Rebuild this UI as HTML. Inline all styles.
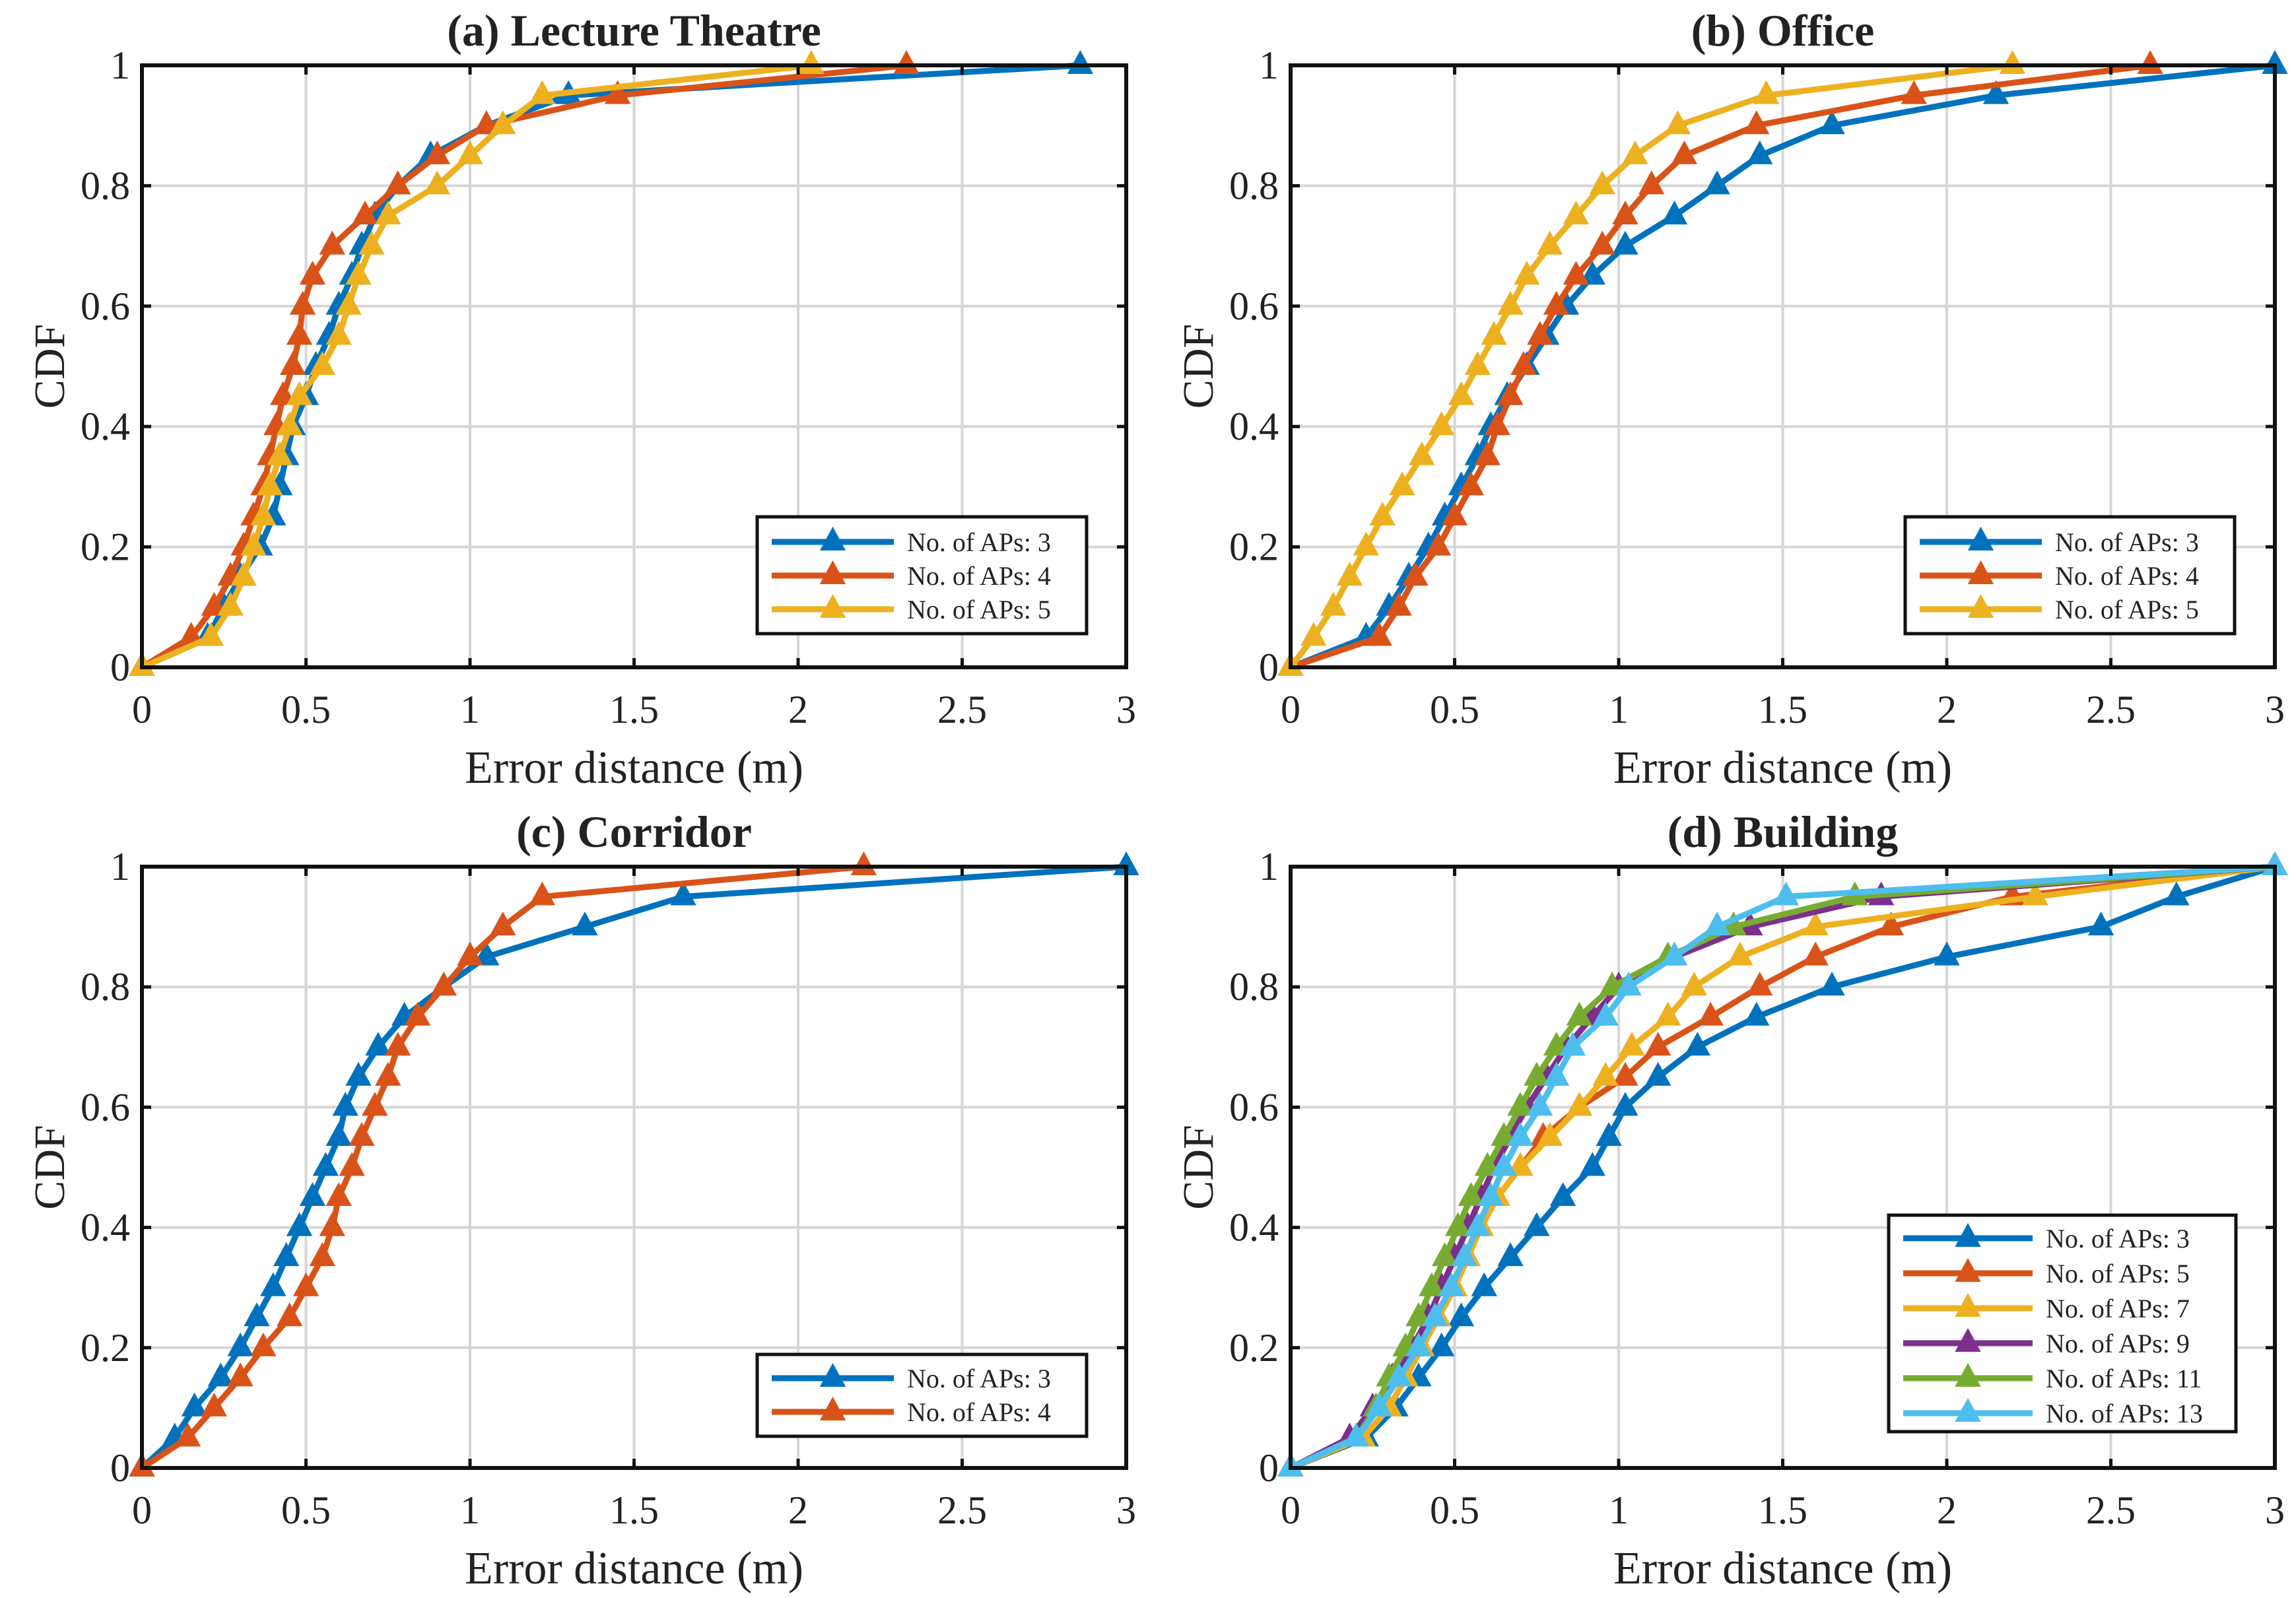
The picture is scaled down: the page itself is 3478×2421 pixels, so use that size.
<!DOCTYPE html>
<html><head><meta charset="utf-8"><style>
html,body{margin:0;padding:0;background:#fff}
svg{display:block}
text{font-family:"Liberation Serif",serif;fill:#222}
</style></head><body>
<svg id="chart" width="3478" height="2421" viewBox="0 0 3478 2421" xmlns="http://www.w3.org/2000/svg"></svg>
<script>
const yLevels = [0,0.05,0.1,0.15,0.2,0.25,0.3,0.35,0.4,0.45,0.5,0.55,0.6,0.65,0.7,0.75,0.8,0.85,0.9,0.95,1];
const xTicks = [0,0.5,1,1.5,2,2.5,3];
const yTicks = [0,0.2,0.4,0.6,0.8,1];
// Panel (a) Lecture Theatre
const aAP3 = [0,0.2,0.25,0.3,0.36,0.4,0.42,0.44,0.46,0.5,0.53,0.57,0.6,0.64,0.67,0.71,0.78,0.88,1.05,1.3,2.86];
const aAP4 = [0,0.15,0.22,0.27,0.31,0.34,0.37,0.39,0.41,0.43,0.46,0.48,0.49,0.52,0.58,0.68,0.78,0.9,1.05,1.45,2.33];
const aAP5 = [0,0.21,0.27,0.31,0.34,0.37,0.39,0.42,0.45,0.48,0.55,0.6,0.63,0.66,0.7,0.75,0.9,1.0,1.1,1.22,2.04];
// Panel (b) Office
const bAP3 = [0,0.23,0.3,0.36,0.42,0.47,0.52,0.57,0.61,0.66,0.72,0.78,0.84,0.92,1.02,1.17,1.3,1.43,1.65,2.15,3.0];
const bAP4 = [0,0.27,0.33,0.38,0.45,0.5,0.55,0.6,0.63,0.67,0.71,0.76,0.81,0.87,0.95,1.02,1.1,1.2,1.42,1.9,2.62];
const bAP5 = [0,0.07,0.13,0.18,0.23,0.28,0.34,0.4,0.46,0.52,0.57,0.62,0.67,0.72,0.79,0.87,0.95,1.05,1.18,1.45,2.2];
// Panel (c) Corridor
const cAP3 = [0,0.1,0.16,0.24,0.3,0.35,0.4,0.44,0.48,0.52,0.56,0.6,0.62,0.66,0.72,0.8,0.92,1.05,1.35,1.65,3.0];
const cAP4 = [0,0.14,0.22,0.3,0.37,0.45,0.5,0.55,0.58,0.6,0.64,0.67,0.71,0.75,0.78,0.84,0.92,1.0,1.1,1.22,2.2];
// Panel (d) Building
const dAP3 = [0,0.23,0.32,0.39,0.46,0.52,0.59,0.67,0.75,0.83,0.92,0.97,1.02,1.12,1.24,1.42,1.65,2.0,2.47,2.7,3.0];
const dAP5 = [0,0.22,0.3,0.35,0.4,0.45,0.5,0.54,0.58,0.63,0.7,0.77,0.88,1.02,1.12,1.28,1.43,1.6,1.83,2.2,3.0];
const dAP7 = [0,0.22,0.3,0.35,0.4,0.45,0.5,0.54,0.58,0.63,0.7,0.79,0.88,0.96,1.04,1.15,1.23,1.37,1.6,2.27,3.0];
const dAP9 = [0,0.18,0.25,0.31,0.37,0.42,0.46,0.5,0.54,0.58,0.62,0.67,0.72,0.78,0.84,0.92,1.0,1.17,1.4,1.8,3.0];
const dAP11 = [0,0.2,0.26,0.3,0.35,0.39,0.43,0.47,0.51,0.55,0.6,0.65,0.7,0.75,0.81,0.88,0.98,1.15,1.35,1.72,3.0];
const dAP13 = [0,0.2,0.27,0.33,0.39,0.44,0.49,0.53,0.57,0.61,0.65,0.7,0.76,0.81,0.86,0.96,1.03,1.17,1.3,1.51,3.0];

const C=['#0072BD','#D95319','#EDB120','#7E2F8E','#77AC30','#4DBEEE'];
const svg=document.getElementById('chart');
const NS='http://www.w3.org/2000/svg';
function mk(tag,attrs,parent){const e=document.createElementNS(NS,tag);for(const k in attrs)e.setAttribute(k,attrs[k]);(parent||svg).appendChild(e);return e;}
function tri(g,cx,cy,col){return mk('polygon',{points:`${cx},${cy-21} ${cx-18},${cy+12} ${cx+18},${cy+12}`,fill:col,stroke:col,'stroke-width':2},g);}

function panel(id,title,L,T,R,B,series,labels,leg){
  const g=mk('g',{});
  
  
  const sx=v=>L+(R-L)*v/3, sy=v=>B-(B-T)*v;
  xTicks.forEach(t=>{const l=mk('line',{x1:sx(t),x2:sx(t),y1:T,y2:B,stroke:'#d6d6d6','stroke-width':4},g);});
  yTicks.forEach(t=>{const l=mk('line',{x1:L,x2:R,y1:sy(t),y2:sy(t),stroke:'#d6d6d6','stroke-width':4},g);});
  series.forEach((xs,i)=>{
    const col=C[i];
    const s=mk('g',{},g);
    
    
    const pts=xs.map((x,k)=>sx(x)+','+sy(yLevels[k])).join(' ');
    mk('polyline',{points:pts,fill:'none',stroke:col,'stroke-width':9,'stroke-linejoin':'round'},s);
    xs.forEach((x,k)=>{const m=tri(s,sx(x),sy(yLevels[k]),col);});
  });
  const box=mk('rect',{x:L,y:T,width:R-L,height:B-T,fill:'none',stroke:'#111','stroke-width':6},g);
  
  xTicks.forEach(t=>{
    mk('line',{x1:sx(t),x2:sx(t),y1:B,y2:B-14,stroke:'#111','stroke-width':5},g);
    mk('line',{x1:sx(t),x2:sx(t),y1:T,y2:T+14,stroke:'#111','stroke-width':5},g);
    const tx=mk('text',{x:sx(t),y:B+84,'font-size':60,'text-anchor':'middle'},g);tx.textContent=String(t);
    
  });
  yTicks.forEach(t=>{
    mk('line',{x1:L,x2:L+14,y1:sy(t),y2:sy(t),stroke:'#111','stroke-width':5},g);
    mk('line',{x1:R,x2:R-14,y1:sy(t),y2:sy(t),stroke:'#111','stroke-width':5},g);
    const tx=mk('text',{x:L-18,y:sy(t)+20,'font-size':60,'text-anchor':'end'},g);tx.textContent=String(t);
    
  });
  const tt=mk('text',{x:(L+R)/2,y:T-30,'font-size':68,'font-weight':'bold','text-anchor':'middle'},g);tt.textContent=title;
  
  const xl=mk('text',{x:(L+R)/2,y:B+175,'font-size':70,'text-anchor':'middle'},g);xl.textContent='Error distance (m)';
  
  const cy=(T+B)/2;
  const yl=mk('text',{x:L-140,y:cy+22,'font-size':66,'text-anchor':'middle',transform:`rotate(-90 ${L-140} ${cy})`},g);
  yl.textContent='CDF';
  
  const lg=mk('g',{},g);
  
  mk('rect',{x:leg.x,y:leg.y,width:leg.w,height:leg.h,fill:'#fff',stroke:'#111','stroke-width':5},lg);
  labels.forEach((lab,i)=>{
    const ry=leg.y+leg.first+i*leg.step;
    const e=mk('g',{},lg);
    
    mk('line',{x1:leg.x+22,x2:leg.x+22+leg.lw,y1:ry,y2:ry,stroke:C[i],'stroke-width':9},e);
    tri(e,leg.x+22+leg.lw/2,ry,C[i]);
    const t=mk('text',{x:leg.x+leg.lw+42,y:ry+14,'font-size':40},e);t.textContent=lab;
  });
}
panel('a','(a) Lecture Theatre',215,99,1706,1011,[aAP3,aAP4,aAP5],['No. of APs: 3','No. of APs: 4','No. of APs: 5'],{x:1147,y:783,w:499,h:177,first:38,step:51,lw:185});
panel('b','(b) Office',1955,99,3446,1011,[bAP3,bAP4,bAP5],['No. of APs: 3','No. of APs: 4','No. of APs: 5'],{x:2886,y:783,w:499,h:177,first:38,step:51,lw:185});
panel('c','(c) Corridor',215,1313,1706,2224,[cAP3,cAP4],['No. of APs: 3','No. of APs: 4'],{x:1147,y:2052,w:499,h:124,first:36,step:51,lw:185});
panel('d','(d) Building',1955,1313,3446,2224,[dAP3,dAP5,dAP7,dAP9,dAP11,dAP13],['No. of APs: 3','No. of APs: 5','No. of APs: 7','No. of APs: 9','No. of APs: 11','No. of APs: 13'],{x:2861,y:1841,w:526,h:328,first:35,step:53,lw:196});
</script>
</body></html>
